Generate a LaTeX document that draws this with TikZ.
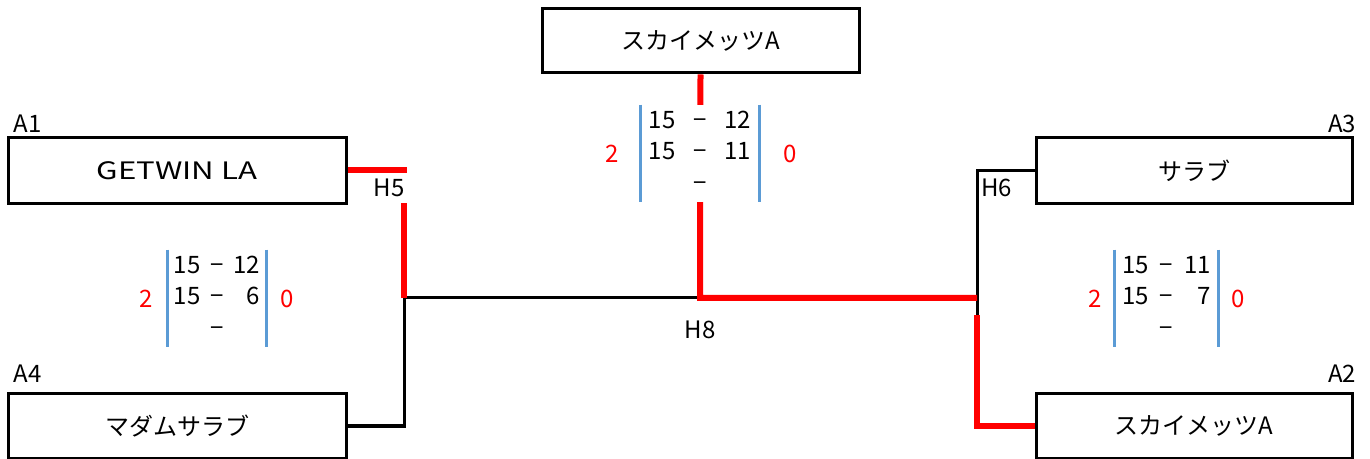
\documentclass[tikz,border=0pt]{standalone}
\usepackage{fontspec}
\setmainfont{Noto Sans CJK JP}
\newfontfamily\widefont[FakeStretch=1.3]{Noto Sans CJK JP}
\usetikzlibrary{positioning}
\definecolor{barblue}{RGB}{91,155,213}

\begin{document}
\begin{tikzpicture}[x=0.5pt,y=-0.5pt,font=\fontsize{12}{15.75}\selectfont,
	team/.style={draw,line width=1.5pt,inner sep=0pt},
	win/.style={draw=red,line width=3pt},
	lose/.style={draw=black,line width=1.5pt},
	tag/.style={inner sep=0pt},
	score/.style={fill=white,inner sep=0pt,minimum height=48.5pt},
	pts/.style={text=red,inner sep=0pt},
	bar/.style={draw=barblue,line width=1.3pt}]
		\useasboundingbox (0,0) rectangle (1370,459);
		% teams
		\node[team,minimum width=158.5pt,minimum height=32pt] (top) at (700.5,41) {スカイメッツA};
		\node[team,minimum width=169pt,minimum height=33pt] (a1) at (177,170.5) {\widefont GETWIN LA};
		\node[team,minimum width=169pt,minimum height=32pt] (a4) at (177,426) {マダムサラブ};
		\node[team,minimum width=158pt,minimum height=33pt] (a3) at (1194,170.5) {サラブ};
		\node[team,minimum width=158pt,minimum height=32pt] (a2) at (1194,426) {スカイメッツA};
		\node[tag] (l1) [above right=1.5pt and 3.5pt of a1.north west] {A1};
		\node[tag] (l4) [above right=5pt and 3.5pt of a4.north west] {A4};
		\node[tag] (l3) [above left=1.5pt and -1.5pt of a3.north east] {A3};
		\node[tag] (l2) [above left=5pt and -1.5pt of a2.north east] {A2};
		% junctions
		\coordinate (h5) at (404,298);
		\coordinate (h8) at (700,298);
		\coordinate (h6) at (977,298);
		\coordinate (h6b) at (977,315);
		\draw[lose] (a4.east) -| (h5) -- (h8);
		\draw[lose] (a3.west) -| (h6b);
		\draw[win] (a1.east) -| (h5);
		\draw[win] (top.south) -- (h8) -- (h6);
		\draw[win] (a2.west) -| (h6b);
		\node[tag,fill=white,inner xsep=1pt,inner ysep=3pt,anchor=east] (t5) at (407,188) {H5};
		\node[tag,anchor=west] (t6) at (981,188) {H6};
		\node[tag] (t8) at (700,330) {H8};
		% scores
		\node[score,minimum width=49pt] (sc5) at (217,298.5) {\begin{tabular}{@{}r@{\hspace{5pt}}c@{\hspace{5pt}}r@{}}15&−&12\\15&−&6\\&−&\end{tabular}};
		\node[score,minimum width=59pt] (sc8) at (700,153.5) {\begin{tabular}{@{}r@{\hspace{9pt}}c@{\hspace{9pt}}r@{}}15&−&12\\15&−&11\\&−&\end{tabular}};
		\node[score,minimum width=51.5pt] (sc6) at (1166.5,298.5) {\begin{tabular}{@{}r@{\hspace{5.5pt}}c@{\hspace{5.5pt}}r@{}}15&−&11\\15&−&7\\&−&\end{tabular}};
		\draw[bar] (sc5.north west) -- (sc5.south west) (sc5.north east) -- (sc5.south east);
		\draw[bar] (sc8.north west) -- (sc8.south west) (sc8.north east) -- (sc8.south east);
		\draw[bar] (sc6.north west) -- (sc6.south west) (sc6.north east) -- (sc6.south east);
		\node[pts] (p5l) [left=7pt of sc5] {2};
		\node[pts] (p5r) [right=7pt of sc5] {0};
		\node[pts] (p8l) [left=10.5pt of sc8] {2};
		\node[pts] (p8r) [right=12pt of sc8] {0};
		\node[pts] (p6l) [left=6pt of sc6] {2};
		\node[pts] (p6r) [right=6.5pt of sc6] {0};
	\end{tikzpicture}
\end{document}
